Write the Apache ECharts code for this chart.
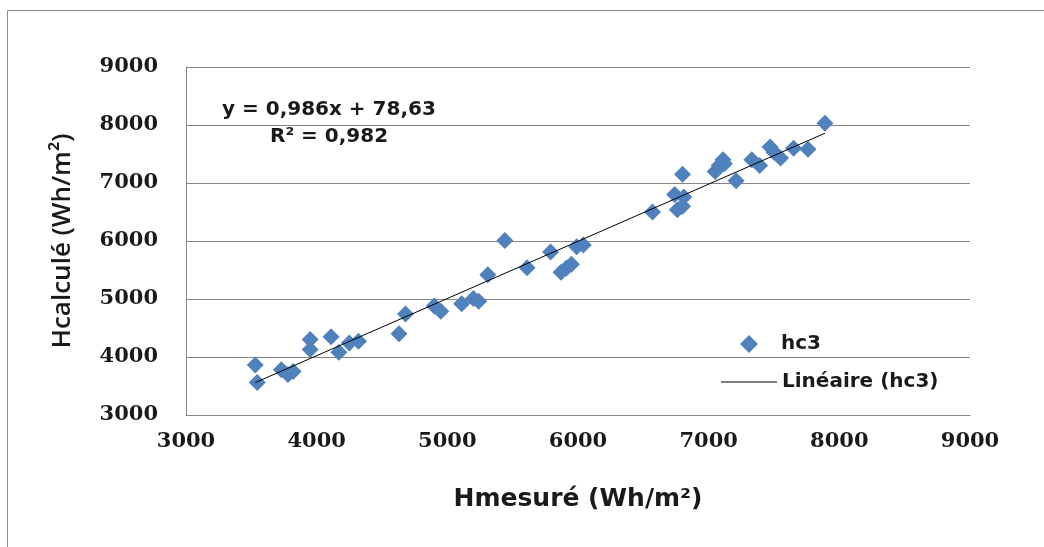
<!DOCTYPE html>
<html>
<head>
<meta charset="utf-8">
<title>Hcalculé vs Hmesuré</title>
<script src="https://cdn.jsdelivr.net/npm/echarts@6/dist/echarts.min.js"></script>
<style>
  html, body { margin: 0; padding: 0; background: #fff; }
  #main { width: 1044px; height: 547px; }
</style>
</head>
<body>
<div id="main"></div>
<script>
var hmesure = [3530, 3545, 3730, 3780, 3820, 3950, 3950, 4110, 4170, 4250, 4320,
  4630, 4680, 4900, 4950, 5110, 5200, 5240, 5310, 5440, 5610, 5790, 5870, 5910,
  5950, 5990, 6040, 6570, 6740, 6810, 6760, 6800, 6800, 7050, 7080, 7110, 7120,
  7210, 7330, 7390, 7470, 7500, 7550, 7650, 7760, 7890];
var hcalcule = [3860, 3560, 3780, 3700, 3750, 4300, 4130, 4350, 4080, 4240, 4270,
  4400, 4740, 4880, 4790, 4920, 5010, 4960, 5420, 6010, 5540, 5810, 5460, 5530,
  5600, 5900, 5930, 6500, 6800, 6760, 6540, 6600, 7150, 7200, 7300, 7400, 7330,
  7040, 7400, 7300, 7620, 7530, 7430, 7600, 7580, 8030];
// courbe de tendance linéaire
var pente = 0.986;
var origine = 78.63;
var r2 = '0,982';
var axisMin = 3000, axisMax = 9000, axisStep = 1000;

var points = [];
for (var i = 0; i < hmesure.length; i++) {
  points.push([hmesure[i], hcalcule[i]]);
}
var xmin = Math.min.apply(null, hmesure);
var xmax = Math.max.apply(null, hmesure);
var tendance = [[xmin, pente * xmin + origine], [xmax, pente * xmax + origine]];

var chart = echarts.init(document.getElementById('main'));
var tickFont = {
  fontFamily: 'DejaVu Serif',
  fontWeight: 'bold',
  fontSize: 21,
  color: '#1a1a1a',
  formatter: function(v) { return String(v); }
};
var legendFont = { fontFamily: 'DejaVu Sans', fontWeight: 'bold', fontSize: 20, color: '#1a1a1a' };
chart.setOption({
  animation: false,
  backgroundColor: '#fff',
  grid: { left: 186, right: 74, top: 67, bottom: 132, containLabel: false },
  xAxis: {
    type: 'value',
    min: axisMin, max: axisMax, interval: axisStep,
    name: 'Hmesuré (Wh/m²)',
    nameLocation: 'middle',
    nameGap: 72,
    nameTextStyle: { fontFamily: 'DejaVu Sans', fontWeight: 'bold', fontSize: 25, color: '#1a1a1a' },
    axisLine: { show: true, lineStyle: { color: '#868686', width: 1 } },
    axisTick: { show: false },
    splitLine: { show: false },
    axisLabel: Object.assign({ margin: 16 }, tickFont)
  },
  yAxis: {
    type: 'value',
    min: axisMin, max: axisMax, interval: axisStep,
    name: 'Hcalculé (Wh/m²)',
    nameLocation: 'middle',
    nameGap: 110,
    nameTextStyle: { fontFamily: 'Open Sans', fontWeight: 600, fontSize: 26, color: '#1a1a1a' },
    axisLine: { show: true, lineStyle: { color: '#868686', width: 1 } },
    axisTick: { show: false },
    splitLine: { show: true, lineStyle: { color: '#868686', width: 1 } },
    axisLabel: Object.assign({ margin: 28 }, tickFont)
  },
  legend: [
    {
      data: [{ name: 'hc3', icon: 'diamond' }],
      left: 740, top: 334, padding: 0,
      itemWidth: 18, itemHeight: 18,
      textStyle: Object.assign({ padding: [0, 0, 0, 18] }, legendFont)
    },
    {
      data: [{ name: 'Linéaire (hc3)', icon: 'rect' }],
      left: 721, top: 372, padding: 0,
      itemWidth: 56, itemHeight: 1,
      itemStyle: { color: '#000' },
      textStyle: legendFont
    }
  ],
  graphic: [
    {
      type: 'rect', silent: true,
      shape: { x: 7.5, y: 10.5, width: 1100, height: 600 },
      style: { fill: 'none', stroke: '#8c8c8c', lineWidth: 1 }
    },
    {
      type: 'text', left: 222, top: 100,
      style: {
        text: 'y = ' + String(pente).replace('.', ',') + 'x + ' + String(origine).replace('.', ','),
        font: 'bold 20px "DejaVu Sans"', fill: '#1a1a1a'
      }
    },
    {
      type: 'text', left: 270, top: 127,
      style: { text: 'R² = ' + r2, font: 'bold 20px "DejaVu Sans"', fill: '#1a1a1a' }
    }
  ],
  series: [
    {
      name: 'hc3',
      type: 'scatter',
      symbol: 'diamond',
      symbolSize: 17,
      itemStyle: { color: '#4F81BD', opacity: 1 },
      data: points
    },
    {
      name: 'Linéaire (hc3)',
      type: 'line',
      symbol: 'none',
      lineStyle: { color: '#000', width: 1 },
      itemStyle: { color: '#000' },
      data: tendance
    }
  ]
});
</script>
</body>
</html>
